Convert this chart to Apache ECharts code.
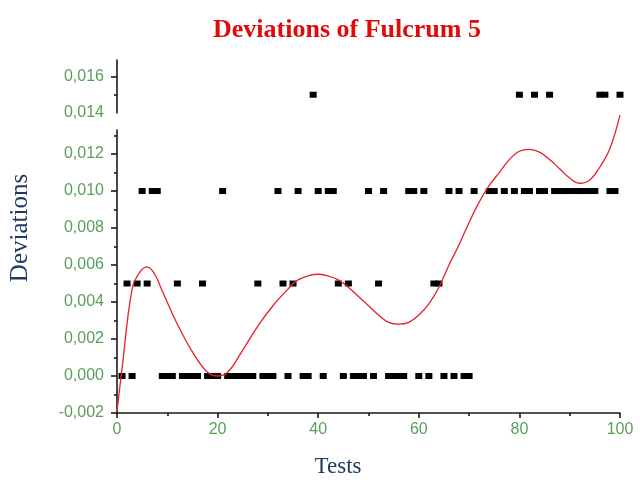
<!DOCTYPE html>
<html>
<head>
<meta charset="utf-8">
<script src="https://cdn.jsdelivr.net/npm/echarts@6/dist/echarts.min.js"></script>
<style>html,body{margin:0;padding:0;background:#fff;}#c{width:640px;height:489px;}</style>
</head>
<body>
<div id="c"></div>
<script>
// Test numbers at each measured deviation level
const testsAt000 = [1,3,9,10,11,13,14,15,16,18,19,20,22,23,24,25,26,27,29,30,31,34,37,38,41,45,47,48,49,51,54,55,56,57,60,62,65,67,69,70];
const testsAt005 = [2,4,6,12,17,28,33,35,44,46,52,63,64];
const testsAt010 = [5,7,8,21,32,36,40,42,43,50,53,58,59,61,66,68,71,74,75,77,79,81,82,84,85,87,88,89,90,91,92,93,94,95,98,99];
const testsAt015 = [39,80,83,86,96,97,100];
const levels = [0, 0.005, 0.010, 0.015];

// Fitted curve
const fitX = [0, 1, 3, 4.5, 6, 7.5, 9, 12, 15, 18, 20, 22, 25, 28, 31, 34, 36, 40, 42, 44, 46, 48, 50, 52, 54, 56, 58, 60, 62, 64, 66, 68, 70, 72, 74, 76, 78, 80, 82, 84, 86, 88, 90, 92, 94, 96, 98, 100];
const fitY = [-0.0019, 0.0004, 0.0047, 0.0056, 0.0059, 0.0055, 0.0046, 0.0028, 0.0013, 0.0002, 0.0000, 0.0002, 0.0014, 0.0027, 0.0038, 0.0047, 0.0052, 0.0055, 0.0054, 0.0052, 0.0048, 0.0043, 0.0038, 0.0033, 0.0029, 0.0028, 0.0029, 0.0033, 0.0039, 0.0048, 0.0060, 0.0071, 0.0083, 0.0094, 0.0103, 0.0110, 0.0117, 0.01215, 0.01225, 0.0121, 0.0117, 0.0112, 0.0107, 0.01042, 0.0106, 0.0113, 0.0123, 0.0141];

const xTicks = [0, 20, 40, 60, 80, 100];

const green = '#5a9e5a';
const navy = '#1f3a64';
const axisCol = '#1a1a1a';

function fmt(v) {
  const k = Math.round(v / 0.002);
  if (Math.abs(v - k * 0.002) > 1e-7) return '';
  return (k * 0.002).toFixed(3).replace('.', ',');
}
function pts(xs, y) { return xs.map(x => [x, y]); }

const chart = echarts.init(document.getElementById('c'));
const baseY = {
  type: 'value',
  interval: 0.002,
  axisLine: {show: true, lineStyle: {color: axisCol, width: 1.6}},
  axisTick: {show: true, inside: false, length: 6, lineStyle: {color: axisCol, width: 1.6}},
  minorTick: {show: true, splitNumber: 2, length: 3, lineStyle: {color: axisCol, width: 1.6}},
  splitLine: {show: false},
  axisLabel: {color: green, fontFamily: 'Liberation Sans, Arial', fontSize: 16, margin: 13, formatter: fmt}
};
chart.setOption({
  animation: false,
  backgroundColor: '#fff',
  title: {
    text: 'Deviations of Fulcrum 5', left: 342, top: 12, textAlign: 'center',
    textStyle: {color: '#e00a0a', fontFamily: 'Liberation Serif, Times New Roman', fontWeight: 'bold', fontSize: 26}
  },
  graphic: [{
    type: 'text', x: 20, y: 228, rotation: Math.PI / 2,
    style: {text: 'Deviations', fill: navy, font: '25px "Liberation Serif", "Times New Roman"',
            textAlign: 'center', textVerticalAlign: 'middle'}
  }, {
    type: 'text', x: 338, y: 467,
    style: {text: 'Tests', fill: navy, font: '23px "Liberation Serif", "Times New Roman"',
            textAlign: 'center', textVerticalAlign: 'middle'}
  }],
  grid: [
    {left: 117, right: 20, top: 60, height: 53, containLabel: false},
    {left: 117, right: 20, top: 130, height: 283, containLabel: false}
  ],
  xAxis: [
    {gridIndex: 0, type: 'value', min: 0, max: 100, show: false},
    {gridIndex: 1, type: 'value', min: 0, max: 100, interval: 20,
     axisLine: {show: true, onZero: false, lineStyle: {color: axisCol, width: 1.6}},
     axisTick: {show: true, length: 5, lineStyle: {color: axisCol, width: 1.6}},
     minorTick: {show: true, splitNumber: 2, length: 3, lineStyle: {color: axisCol, width: 1.6}},
     splitLine: {show: false},
     axisLabel: {color: green, fontFamily: 'Liberation Sans, Arial', fontSize: 16, margin: 9,
       formatter: v => xTicks.indexOf(v) >= 0 ? String(v) : ''}}
  ],
  yAxis: [
    Object.assign({}, baseY, {gridIndex: 0, min: 0.014, max: 0.0169,
      axisTick: Object.assign({}, baseY.axisTick, {customValues: [0.016]}),
      axisLabel: Object.assign({}, baseY.axisLabel, {customValues: [0.014, 0.016]})}),
    Object.assign({}, baseY, {gridIndex: 1, min: -0.002, max: 0.0133,
      axisTick: Object.assign({}, baseY.axisTick, {customValues: [-0.002, 0, 0.002, 0.004, 0.006, 0.008, 0.010, 0.012]}),
      axisLabel: Object.assign({}, baseY.axisLabel, {customValues: [-0.002, 0, 0.002, 0.004, 0.006, 0.008, 0.010, 0.012]})})
  ],
  series: [
    {type: 'scatter', xAxisIndex: 1, yAxisIndex: 1, symbol: 'rect', symbolSize: [7, 6],
     itemStyle: {color: '#000', opacity: 1}, data: pts(testsAt000, levels[0]).concat(pts(testsAt005, levels[1]), pts(testsAt010, levels[2]))},
    {type: 'scatter', xAxisIndex: 0, yAxisIndex: 0, symbol: 'rect', symbolSize: [7, 6],
     itemStyle: {color: '#000', opacity: 1}, data: pts(testsAt015, levels[3])},
    {type: 'line', xAxisIndex: 1, yAxisIndex: 1, smooth: 0.4, showSymbol: false, clip: false,
     lineStyle: {color: '#e8202a', width: 1.3}, data: fitX.map((x, i) => [x, fitY[i]])}
  ]
});
</script>
</body>
</html>
